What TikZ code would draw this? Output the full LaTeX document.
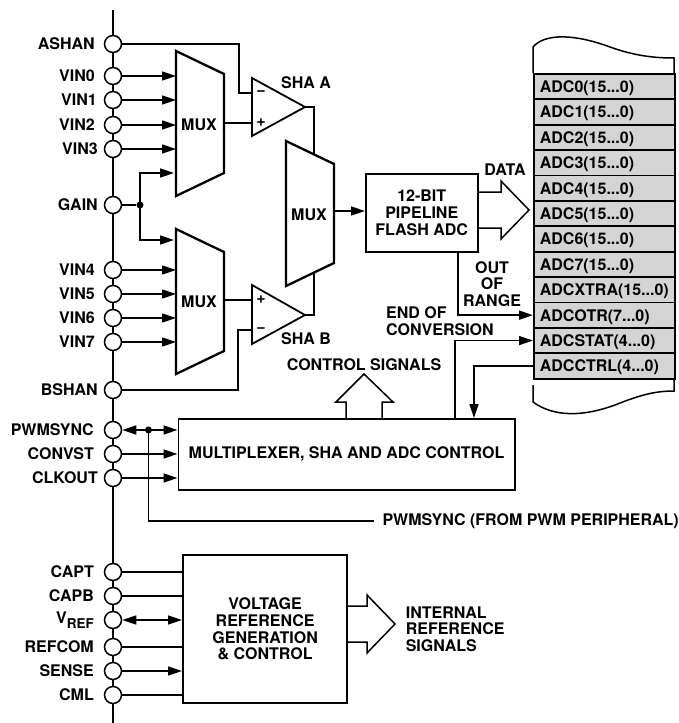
\documentclass[tikz,border=0pt]{standalone}
\usepackage{fontspec}
\setmainfont{TeX Gyre Heros}
\usetikzlibrary{arrows.meta}
\definecolor{reggray}{gray}{0.83}
\tikzset{
  sig/.style={line width=1.5pt},
  heavy/.style={line width=2.3pt},
  arr/.style={sig,-{Triangle[length=14pt,width=9pt]}},
  darr/.style={sig,{Triangle[length=14pt,width=9pt]}-{Triangle[length=14pt,width=9pt]}},
  pinc/.style={circle,draw,fill=white,line width=1.5pt,minimum size=17pt,inner sep=0pt},
  dotc/.style={circle,fill=black,minimum size=7pt,inner sep=0pt},
  lab/.style={font=\fontsize{16}{16.7}\selectfont\bfseries,inner sep=0pt,align=center},
  regbox/.style={lab,draw,line width=1.7pt,fill=reggray,minimum width=141pt,minimum height=25.4pt,
    text width=129pt,align=left,anchor=north west,inner sep=0pt,text depth=0pt},
  ctlblock/.style={lab,draw,line width=1.5pt,anchor=north west}
}
\begin{document}
\begin{tikzpicture}[x=1pt,y=-1pt]
\useasboundingbox (0,0) rectangle (679,723);
% bus and pins
\coordinate (bustop) at (113,10);
\coordinate (busbot) at (113,723);
\draw[sig] (bustop) -- (busbot);
\foreach \pin/\y/\lx/\txt in {ASHAN/44/95/ASHAN,VINa/76/95/VIN0,VINb/100/97/VIN1,VINc/125/95/VIN2,VINd/149/98/VIN3,
  GAIN/205/98/GAIN,VINe/270/95/VIN4,VINf/294/95/VIN5,VINg/318/95/VIN6,VINh/342/95/VIN7,BSHAN/390/98/BSHAN,
  PWMSYNC/430/94/PWMSYNC,CONVST/454/94/CONVST,CLKOUT/478/98/CLKOUT,
  CAPT/572/94/CAPT,CAPB/596/94/CAPB,VREF/620/94/{V\raisebox{-5pt}{\fontsize{13.5}{14}\selectfont REF}},REFCOM/647/94/REFCOM,SENSE/671/94/SENSE,CML/695/94/CML}
{
  \node[pinc] (\pin) at (113,\y) {};
  \node[lab,anchor=east] (\pin lab) at (\lx,\y) {\txt};
}
% input muxes and output mux
\foreach \m/\x/\y/\ty in {muxA/176/51/125,muxB/176/229/302,muxC/286/141/215}
{
  \draw[heavy] (\x,\y) -- ++(48,23) -- ++(0,99) -- ++(-48,23) -- cycle;
  \node[lab] (\m) at (\x+23,\ty) {MUX};
  \coordinate (\m w) at (\x,\y+70);
  \coordinate (\m e) at (\x+48,\y+70);
}
\foreach \pin in {VINa,VINb,VINc,VINd}
  \draw[arr] (\pin) -- (\pin -| muxAw);
\foreach \pin in {VINe,VINf,VINg,VINh}
  \draw[arr] (\pin) -- (\pin -| muxBw);
\node[dotc] (gaindot) at (140,205) {};
\coordinate (gainA) at (174,173);
\coordinate (gainB) at (174,240);
\draw[sig] (GAIN) -- (gaindot);
\draw[arr] (gaindot.center) |- (gainA);
\draw[arr] (gaindot.center) |- (gainB);
% sample and hold amplifiers
\draw[line width=1.8pt] (252,78) -- (305,107) -- (252,136) -- cycle;
\draw[line width=1.8pt] (252,285) -- (305,315) -- (252,344) -- cycle;
\coordinate (shaAtip) at (305,107);
\coordinate (shaBtip) at (305,315);
\coordinate (shaAminus) at (252,93);
\coordinate (shaAplus) at (252,123);
\coordinate (shaBplus) at (252,300);
\coordinate (shaBminus) at (252,330);
\coordinate (muxCtop) at (314,155);
\coordinate (muxCbot) at (314,272);
\node[lab] (mA) at (261,93) {\textminus};
\node[lab] (pA) at (261,123) {+};
\node[lab] (pB) at (261,300) {+};
\node[lab] (mB) at (261,330) {\textminus};
\node[lab] (shaA) at (306,83) {SHA A};
\node[lab] (shaB) at (306,339) {SHA B};
\draw[sig] (ASHAN) -- (239,44) |- (shaAminus);
\draw[sig] (BSHAN) -- (238,390) |- (shaBminus);
\draw[sig] (muxAe |- shaAplus) -- (shaAplus);
\draw[sig] (muxBe |- shaBplus) -- (shaBplus);
\draw[sig] (shaAtip) -| (muxCtop);
\draw[sig] (shaBtip) -| (muxCbot);
% adc block
\node[ctlblock,minimum width=112pt,minimum height=78pt] (adcbox) at (365,173) {12-BIT\\PIPELINE\\FLASH ADC};
\draw[arr] (muxCe) -- (adcbox.west |- muxCe);
\draw[sig] (477,192) -- (501,192) -- (501,181) -- (529,210) -- (501,239) -- (501,228) -- (477,228);
\node[lab] (datalab) at (505,170) {DATA};
% result registers
\draw[sig] (533,385) -- (533,402) .. controls (555,418) and (585,416) .. (615,405)
  .. controls (640,395) and (655,391) .. (674,391) -- (674,378);
\draw[sig] (533,73) -- (533,47) .. controls (545,33) and (575,34) .. (610,47)
  .. controls (635,56) and (655,58) .. (674,58) -- (674,73);
\foreach \reg/\txt/\bits [count=\i] in {ra/ADC0/15,rb/ADC1/15,rc/ADC2/15,rd/ADC3/15,
  re/ADC4/15,rf/ADC5/15,rg/ADC6/15,rh/ADC7/15,rxtra/ADCXTRA/15,
  rotr/ADCOTR/7,rstat/ADCSTAT/4,rctrl/ADCCTRL/4}
  \node[regbox] (\reg) at (533,{73+(\i-1)*25.4}) {\txt(\bits...0)};
\node[lab] (outlab) at (492,284) {OUT\\OF\\RANGE};
\node[lab,align=left,anchor=west] (eoclab) at (386,321) {END OF\\CONVERSION};
\node[lab] (ctllab) at (364,365) {CONTROL SIGNALS};
% control block
\node[ctlblock,minimum width=336.5pt,minimum height=71pt] (ctlbox) at (177.5,418) {MULTIPLEXER, SHA AND ADC CONTROL};
\coordinate (statfoot) at (455,418);
\coordinate (ctrlfoot) at (474,418);
\draw[arr] (458,251) |- (rotr.west);
\draw[arr] (statfoot) |- (rstat.west);
\draw[arr] (rctrl.west) -| (ctrlfoot);
\draw[sig] (346,418) -- (346,402) -- (336,402) -- (364,374) -- (393,402) -- (382,402) -- (382,418);
\draw[darr] (PWMSYNC) -- (PWMSYNC -| ctlbox.west);
\draw[arr] (CONVST) -- (CONVST -| ctlbox.west);
\draw[arr] (CLKOUT) -- (CLKOUT -| ctlbox.west);
\node[dotc] (pwmdot) at (148.5,430) {};
\node[lab,anchor=east] (pwmlab) at (679,521) {PWMSYNC (FROM PWM PERIPHERAL)};
\draw[sig] (pwmdot.center) |- ([xshift=-8pt]pwmlab.west);
% voltage reference block
\node[lab,draw,heavy,anchor=north west,minimum width=164pt,minimum height=148pt] (refbox) at (182,554) {VOLTAGE\\REFERENCE\\GENERATION\\\& CONTROL};
\foreach \pin in {CAPT,CAPB,REFCOM,CML}
  \draw[sig] (\pin) -- (\pin -| refbox.west);
\draw[darr] (VREF) -- (VREF -| refbox.west);
\draw[arr] (SENSE) -- (SENSE -| refbox.west);
\draw[sig] (346,606) -- (367,606) -- (367,595) -- (395,624) -- (367,653) -- (367,642) -- (346,642);
\node[lab,align=left,anchor=west] (intlab) at (405.6,629) {INTERNAL\\REFERENCE\\SIGNALS};
\end{tikzpicture}
\end{document}
